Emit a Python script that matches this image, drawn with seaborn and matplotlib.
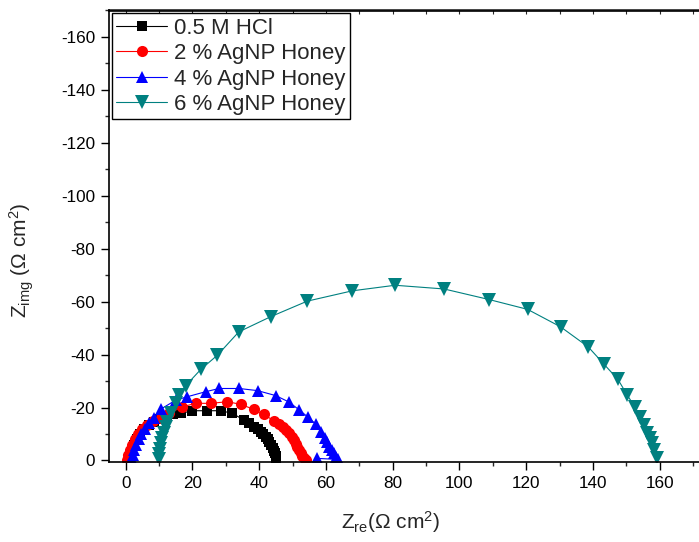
import matplotlib
matplotlib.use("Agg")
import matplotlib.pyplot as plt
import seaborn as sns
import pandas as pd
from matplotlib.ticker import MultipleLocator

# ---------------- data ----------------
labels = ["0.5 M HCl", "2 % AgNP Honey", "4 % AgNP Honey", "6 % AgNP Honey"]

x_hcl = [1.0, 1.3, 1.8, 2.5, 3.3, 4.3, 5.6, 7.0, 8.5, 10.3, 12.3, 14.3, 16.5, 20.0,
         24.5, 28.5, 32.0, 35.4, 37.0, 38.4, 39.5, 40.4, 41.2, 41.9, 42.5, 42.9,
         43.5, 44.0, 44.4, 44.7, 44.9, 45.1]
y_hcl = [0.0, -2.0, -4.0, -6.0, -8.0, -10.0, -11.8, -13.3, -14.5, -15.7, -16.7, -17.4,
         -17.8, -18.8, -18.8, -18.8, -17.8, -15.3, -14.0, -12.8, -11.8, -10.9, -10.0,
         -9.0, -8.0, -7.1, -5.9, -4.7, -3.7, -2.8, -1.8, -0.5]

x_2 = [0.5, 0.8, 1.3, 2.0, 2.8, 3.8, 5.0, 6.5, 8.3, 10.5, 13.0, 17.0, 21.0, 25.5,
       30.5, 34.5, 38.4, 41.4, 44.4, 45.8, 47.0, 48.0, 48.9, 49.7, 50.4, 51.0, 51.4,
       51.9, 52.4, 52.9, 53.4, 54.0]
y_2 = [0.0, -2.0, -4.0, -6.0, -8.0, -10.0, -11.8, -13.3, -14.8, -16.2, -17.8, -20.3,
       -21.6, -21.6, -22.2, -21.2, -19.3, -17.4, -15.0, -13.9, -12.8, -11.5, -10.3,
       -9.0, -7.7, -6.4, -5.2, -3.9, -2.7, -1.7, -0.8, 0.0]

x_4 = [2.0, 2.2, 2.6, 3.2, 3.9, 4.7, 5.7, 7.0, 8.5, 10.5, 15.0, 18.5, 24.0, 28.0,
       34.0, 39.5, 45.0, 48.9, 52.0, 54.5, 57.1, 58.4, 59.6, 60.2, 60.9, 61.7, 62.4,
       63.0, 63.5, 57.4]
y_4 = [0.0, -2.0, -4.0, -6.0, -8.0, -10.0, -12.0, -14.0, -16.0, -19.4, -22.8, -24.1,
       -26.0, -27.2, -27.2, -26.4, -24.5, -22.1, -19.1, -16.5, -13.6, -10.9, -8.4,
       -6.8, -5.2, -3.9, -2.7, -1.5, -0.4, -0.8]

x_6 = [10.0, 10.0, 10.2, 10.5, 11.0, 11.5, 12.0, 12.5, 13.5, 15.0, 16.0, 18.0, 22.5,
       27.5, 33.9, 43.4, 54.4, 67.9, 80.7, 95.4, 108.9, 120.4, 130.3, 138.6, 143.3,
       147.5, 150.3, 152.5, 154.1, 155.3, 156.3, 157.1, 157.8, 158.3, 159.1]
y_6 = [-0.5, -2.5, -4.5, -6.5, -8.5, -10.5, -12.5, -14.5, -17.8, -21.6, -24.7, -28.3,
       -34.4, -39.8, -48.6, -54.3, -60.2, -64.1, -66.2, -64.8, -60.8, -57.1, -50.5,
       -42.9, -36.4, -30.6, -24.7, -20.3, -16.5, -13.4, -10.3, -8.4, -6.5, -4.0, -0.8]

x_ticks = [0, 20, 40, 60, 80, 100, 120, 140, 160]
y_ticks = [0, -20, -40, -60, -80, -100, -120, -140, -160]

# ---------------- style ----------------
sns.set_style("ticks")
plt.rcParams["font.family"] = ["Liberation Sans", "DejaVu Sans"]
plt.rcParams["axes.unicode_minus"] = False
plt.rcParams["mathtext.fontset"] = "custom"
plt.rcParams["mathtext.rm"] = "Liberation Sans"
plt.rcParams["mathtext.it"] = "Liberation Sans:italic"
plt.rcParams["mathtext.bf"] = "Liberation Sans:bold"

fig = plt.figure(figsize=(6.99, 5.42), dpi=100)
ax = fig.add_axes([109 / 699, 80 / 542, 600.75 / 699, 451.5 / 542])

styles = [
    (x_hcl, y_hcl, "black", "s", 6.5),
    (x_2, y_2, "#ff0000", "o", 8.0),
    (x_4, y_4, "#0000ff", "^", 8.5),
    (x_6, y_6, "#008080", "v", 9.5),
]
for lab, (xs, ys, col, mk, ms) in zip(labels, styles):
    df = pd.DataFrame({"Zre": xs, "Zimg": ys})
    sns.lineplot(data=df, x="Zre", y="Zimg", sort=False, estimator=None,
                 color=col, marker=mk, markersize=ms, markeredgecolor=col,
                 markeredgewidth=0, linewidth=0.8, label=lab, ax=ax)

ax.set_xlim(-5, 175)
ax.set_ylim(0.57, -170)
ax.set_xticks(x_ticks)
ax.set_yticks(y_ticks)
ax.xaxis.set_minor_locator(MultipleLocator(10))
ax.yaxis.set_minor_locator(MultipleLocator(10))
ax.tick_params(axis="both", which="major", direction="out", length=6, width=1.0,
               labelsize=12.3, pad=4, colors="black")
ax.tick_params(axis="both", which="minor", direction="out", length=3, width=1.0)

for s in ["left", "bottom", "top"]:
    ax.spines[s].set_visible(True)
    ax.spines[s].set_linewidth(1.2)
    ax.spines[s].set_color("black")
ax.spines["right"].set_visible(False)

sec = ax.secondary_xaxis("top")
sec.xaxis.set_major_locator(MultipleLocator(10))
sec.tick_params(axis="x", which="major", direction="in", length=3, width=0.8,
                labeltop=False)
sec.spines["top"].set_linewidth(1.2)

ax.set_xlabel("Z$_{\\mathrm{re}}$(Ω cm$^{2}$)", fontsize=15)
ax.set_ylabel("Z$_{\\mathrm{img}}$ (Ω cm$^{2}$)", fontsize=15)
ax.xaxis.set_label_coords(0.469, -0.105)
ax.yaxis.set_label_coords(-0.122, 0.447)

leg = ax.legend(loc="upper left", fontsize=16, frameon=True, fancybox=False,
                edgecolor="black", framealpha=1, borderpad=0.2, labelspacing=0.2,
                handlelength=2.3, handletextpad=0.3, borderaxespad=0.12)
leg.get_frame().set_linewidth(1.0)

fig.savefig("out.png", dpi=100)
